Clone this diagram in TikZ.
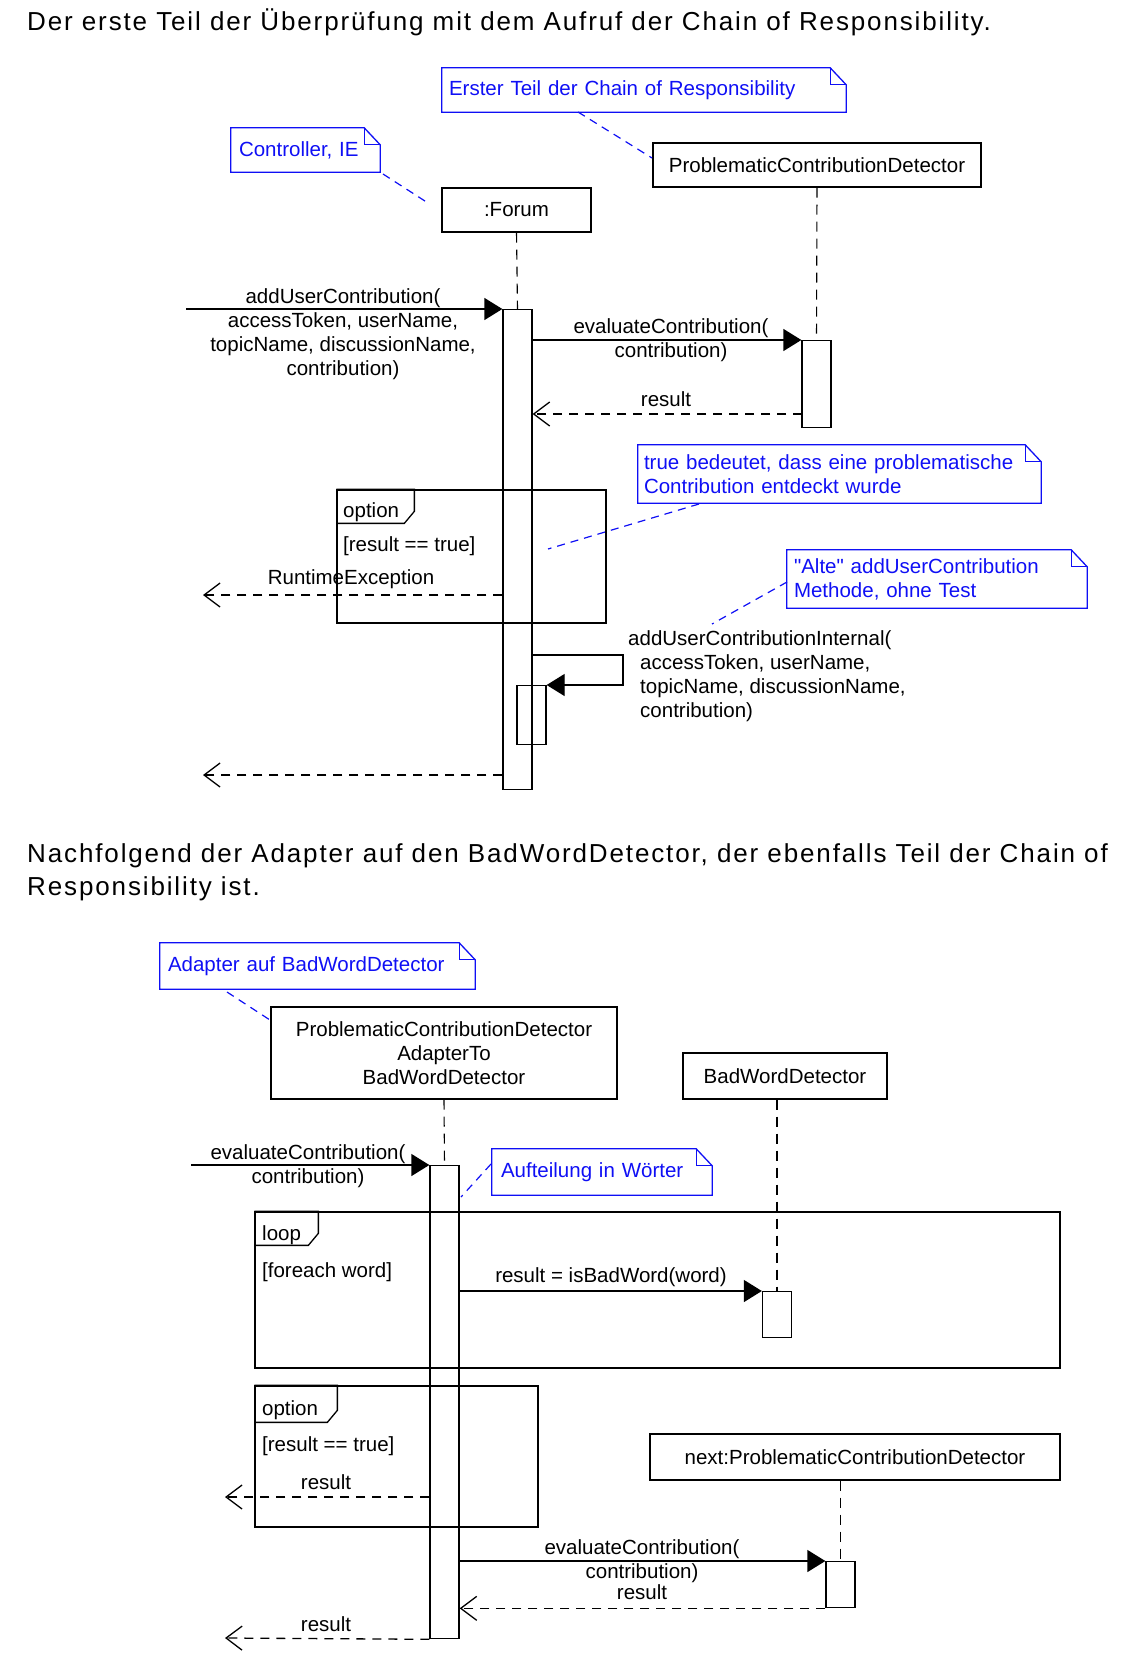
\documentclass[tikz,border=0pt]{standalone}
\usepackage{fontspec}
\setmainfont{Liberation Sans}
\newfontfamily\titlefam[LetterSpace=7.2]{Liberation Sans}
\font\qfont="Liberation Sans" at 20.5pt
\usetikzlibrary{arrows.meta}
\definecolor{noteblue}{RGB}{15,15,245}
\newcommand{\diafont}{\fontsize{20.5}{24}\selectfont}
\newcommand{\titlefont}{\titlefam\fontsize{26}{33}\selectfont}
\newcommand{\straightq}{{\qfont\char34}}
\newcommand{\notepath}[1]{%
  \draw[noteline] (#1.north west) -- ([xshift=-16pt]#1.north east) -- ([yshift=-17pt]#1.north east) -- (#1.south east) -- (#1.south west) -- cycle;
  \draw[noteline] ([xshift=-16pt]#1.north east) -- ([xshift=-16pt,yshift=-17pt]#1.north east) -- ([yshift=-17pt]#1.north east);}
\begin{document}
\begin{tikzpicture}[x=1pt,y=-1pt,
  every node/.style={font=\diafont},
  head/.style={draw, line width=1.3pt, minimum height=44pt, inner sep=0pt, align=center},
  act/.style={draw, line width=1.3pt, minimum width=29pt, inner sep=0pt},
  life/.style={line width=1.1pt, dash pattern=on 10pt off 7pt},
  msg/.style={line width=1.3pt, -{Triangle[length=18pt,width=22pt]}},
  ret/.style={line width=1.3pt, dash pattern=on 9pt off 7pt, -{Straight Barb[length=16pt,width=24pt]}},
  frame/.style={draw, line width=1.3pt, inner sep=0pt},
  note/.style={inner ysep=0pt, align=left, text=noteblue},
  noteline/.style={draw=noteblue, line width=1.3pt},
  notelink/.style={draw=noteblue, line width=1.2pt, dash pattern=on 8pt off 6pt},
  lbl/.style={inner sep=0pt, align=center},
  lblm/.style={inner sep=0pt, align=center, yshift=-3pt},
  lblw/.style={inner sep=0pt, anchor=west, align=left, yshift=-3pt}
]
\useasboundingbox (0,0) rectangle (1134,1678);

% ---------------- titles
\node[anchor=base west, inner sep=0pt, font=\titlefont] (t1) at (27,31) {Der erste Teil der Überprüfung mit dem Aufruf der Chain of Responsibility.};
\node[anchor=base west, inner sep=0pt, font=\titlefont] (t2a) at (27,862) {Nachfolgend der Adapter auf den BadWordDetector, der ebenfalls Teil der Chain of};
\node[anchor=base west, inner sep=0pt, font=\titlefont] (t2b) at (27,895) {Responsibility ist.};

% ---------------- part 1
\node[head, minimum width=149pt] (forum) at (516.5,210) {:Forum};
\node[head, minimum width=328pt] (pcd) at (817,165) {ProblematicContributionDetector};

\node[act, minimum height=480pt, anchor=north] (a1) at (517.5,309) {};
\node[act, minimum height=87pt, anchor=north] (a2) at (816.5,340) {};
\node[act, minimum height=59pt, anchor=north] (a3) at (531.5,685) {};

\draw[life] (forum.south) -- (a1.north);
\draw[life] (pcd.south) -- (a2.north);

% notes
\node[note, inner xsep=7pt, text width=390pt, minimum height=44pt] (n1) at (644,90) {\mbox{Erster Teil der Chain of Responsibility}};
\notepath{n1}
\node[note, inner xsep=8pt, text width=133pt, minimum height=44pt] (n2) at (305.5,150) {\mbox{Controller, IE}};
\notepath{n2}
\node[note, inner xsep=6pt, text width=391pt, minimum height=58pt] (n3) at (839.5,474) {\mbox{true bedeutet, dass eine problematische}\\\mbox{Contribution entdeckt wurde}};
\notepath{n3}
\node[note, inner xsep=7pt, text width=286pt, minimum height=58pt] (n4) at (937,579) {\mbox{\straightq Alte\straightq{} addUserContribution}\\\mbox{Methode, ohne Test}};
\notepath{n4}

\coordinate (k1a) at (578,112); \coordinate (k1b) at (652,158);
\draw[notelink] (k1a) -- (k1b);
\coordinate (k2a) at (383,174); \coordinate (k2b) at (428,203);
\draw[notelink] (k2a) -- (k2b);
\coordinate (k3a) at (699,504); \coordinate (k3b) at (548,549);
\draw[notelink] (k3a) -- (k3b);
\coordinate (k4a) at (787,582); \coordinate (k4b) at (712,624);
\draw[notelink] (k4a) -- (k4b);

% messages
\coordinate (m1s) at (186,309);
\draw[msg] (m1s) -- (a1.north west);
\node[lblm] (l1) at (343,331) {addUserContribution(\\accessToken, userName,\\topicName, discussionName,\\contribution)};

\draw[msg] (a2.north west -| a1.east) -- (a2.north west);
\node[lblm] (l2) at (671,337) {evaluateContribution(\\contribution)};

\coordinate (r1) at (802,414);
\draw[ret] (r1) -- (r1 -| a1.east);
\node[lbl] (l3) at (666,399) {result};

% option frame
\node[frame, minimum width=269pt, minimum height=133pt] (opt1) at (471.5,556.5) {};
\draw[line width=1.3pt] (opt1.north west) -- ++(78,0) -- ++(0,22) -- ++(-10,12) -- ++(-68,0);
\node[lblw] (o1) at (343,509) {option};
\node[lblw] (g1) at (343,543) {[result == true]};

\coordinate (rt) at (203,595);
\draw[ret] (a1.west |- rt) -- (rt);
\node[lbl] (l4) at (351,579) {RuntimeException};

% self call
\coordinate (sc1) at (623,655); \coordinate (sc2) at (623,685);
\draw[msg] (a1.east |- sc1) -- (sc1) -- (sc2) -- (a3.north east);
\node[lblw] (l5) at (628,673.5) {addUserContributionInternal(\\\hspace*{12pt}accessToken, userName,\\\hspace*{12pt}topicName, discussionName,\\\hspace*{12pt}contribution)};

\coordinate (f1) at (203,775);
\draw[ret] (a1.west |- f1) -- (f1);

% ---------------- part 2
\node[note, inner xsep=8pt, text width=299pt, minimum height=46pt] (n5) at (317.5,966) {\mbox{Adapter auf BadWordDetector}};
\notepath{n5}

\node[head, minimum width=346pt, minimum height=92pt] (adapt) at (444,1053) {ProblematicContributionDetector\\AdapterTo\\BadWordDetector};
\node[head, minimum width=204pt, minimum height=46pt] (bwd) at (785,1076) {BadWordDetector};
\node[head, minimum width=410pt, minimum height=46pt] (nxt) at (855,1457) {next:ProblematicContributionDetector};

\coordinate (k5a) at (227,992); \coordinate (k5b) at (270,1020);
\draw[notelink] (k5a) -- (k5b);

\node[act, minimum height=473pt, anchor=north] (b1) at (444.5,1165) {};
\node[act, minimum height=46pt, anchor=north] (b2) at (777,1291) {};
\node[act, minimum height=46pt, anchor=north] (b3) at (840.5,1561) {};

\draw[life] (adapt.south) -- (b1.north);
\draw[life] (bwd.south -| b2.north) -- (b2.north);
\draw[life] (nxt.south -| b3.north) -- (b3.north);

\coordinate (e1s) at (191,1165);
\draw[msg] (e1s) -- (b1.north west);
\node[lblm] (l6) at (308,1163) {evaluateContribution(\\contribution)};

\node[note, inner xsep=9pt, text width=202pt, minimum height=46pt] (n6) at (602,1172) {\mbox{Aufteilung in Wörter}};
\notepath{n6}
\coordinate (k6a) at (491,1164); \coordinate (k6b) at (461,1197);
\draw[notelink] (k6a) -- (k6b);

% loop frame
\node[frame, minimum width=805pt, minimum height=156pt] (loop) at (657.5,1290) {};
\draw[line width=1.3pt] (loop.north west) -- ++(64,0) -- ++(0,22) -- ++(-10,12) -- ++(-54,0);
\node[lblw] (o2) at (262,1232) {loop};
\node[lblw] (g2) at (262,1269) {[foreach word]};

\draw[msg] (b2.north west -| b1.east) -- (b2.north west);
\node[lbl] (l7) at (611,1277) {result = isBadWord(word)};

% option frame 2
\node[frame, minimum width=283pt, minimum height=141pt] (opt2) at (396.5,1456.5) {};
\draw[line width=1.3pt] (opt2.north west) -- ++(83,0) -- ++(0,25) -- ++(-10,12) -- ++(-73,0);
\node[lblw] (o3) at (262,1407) {option};
\node[lblw] (g3) at (262,1443) {[result == true]};

\coordinate (rr1) at (225,1497);
\draw[ret] (b1.west |- rr1) -- (rr1);
\node[lbl] (l8) at (326,1482) {result};

\draw[msg] (b3.north west -| b1.east) -- (b3.north west);
\node[lblm] (l9) at (642,1558.5) {evaluateContribution(\\contribution)};
\draw[ret] (b3.south west) -- (b1.east |- b3.south west);
\node[lbl] (l10) at (642,1592) {result};

\coordinate (rr2) at (225,1638);
\draw[ret] (b1.south west) -- (rr2);
\node[lbl] (l11) at (326,1624) {result};
\end{tikzpicture}
\end{document}
